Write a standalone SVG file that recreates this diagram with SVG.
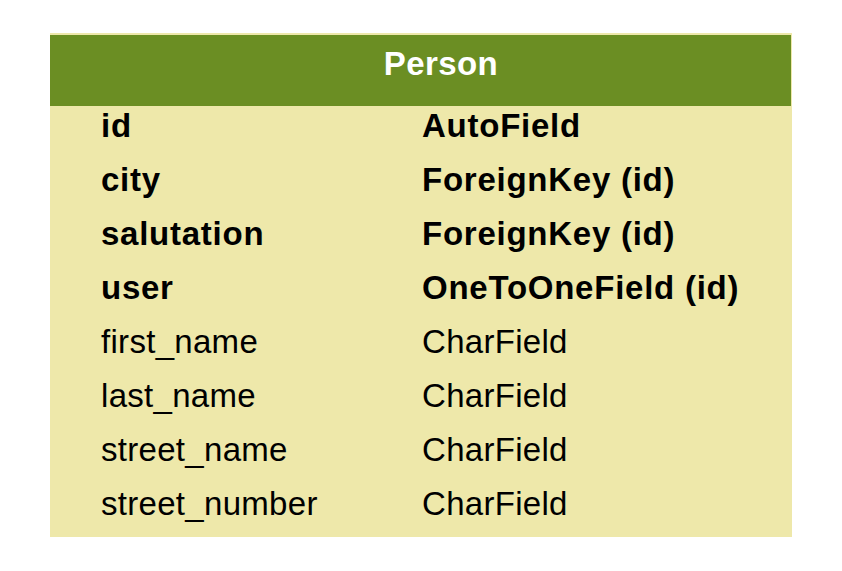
<svg xmlns="http://www.w3.org/2000/svg" width="842" height="571" viewBox="0 0 842 571">
<style>
text{font-family:"Liberation Sans",Arial,sans-serif;font-size:33px;fill:#000;letter-spacing:0.3px}
.b{font-weight:bold;letter-spacing:0.75px}
.t{font-weight:bold;fill:#fff;text-anchor:middle;letter-spacing:0.4px}
</style>
<rect x="0" y="0" width="842" height="571" fill="#fff"/>
<g id="person">
<rect x="50" y="33" width="742" height="504" fill="#eee8aa"/>
<rect x="50" y="35" width="741" height="71" fill="#6b8e23"/>
<text class="t" x="441" y="75">Person</text>
<text class="b" x="101" y="137">id</text><text class="b" x="422" y="137">AutoField</text>
<text class="b" x="101" y="191">city</text><text class="b" x="422" y="191">ForeignKey (id)</text>
<text class="b" x="101" y="245">salutation</text><text class="b" x="422" y="245">ForeignKey (id)</text>
<text class="b" x="101" y="299">user</text><text class="b" x="422" y="299">OneToOneField (id)</text>
<text x="101" y="353">first_name</text><text x="422" y="353">CharField</text>
<text x="101" y="407">last_name</text><text x="422" y="407">CharField</text>
<text x="101" y="461">street_name</text><text x="422" y="461">CharField</text>
<text x="101" y="515">street_number</text><text x="422" y="515">CharField</text>
</g>
<g id="connectors"/>
</svg>
